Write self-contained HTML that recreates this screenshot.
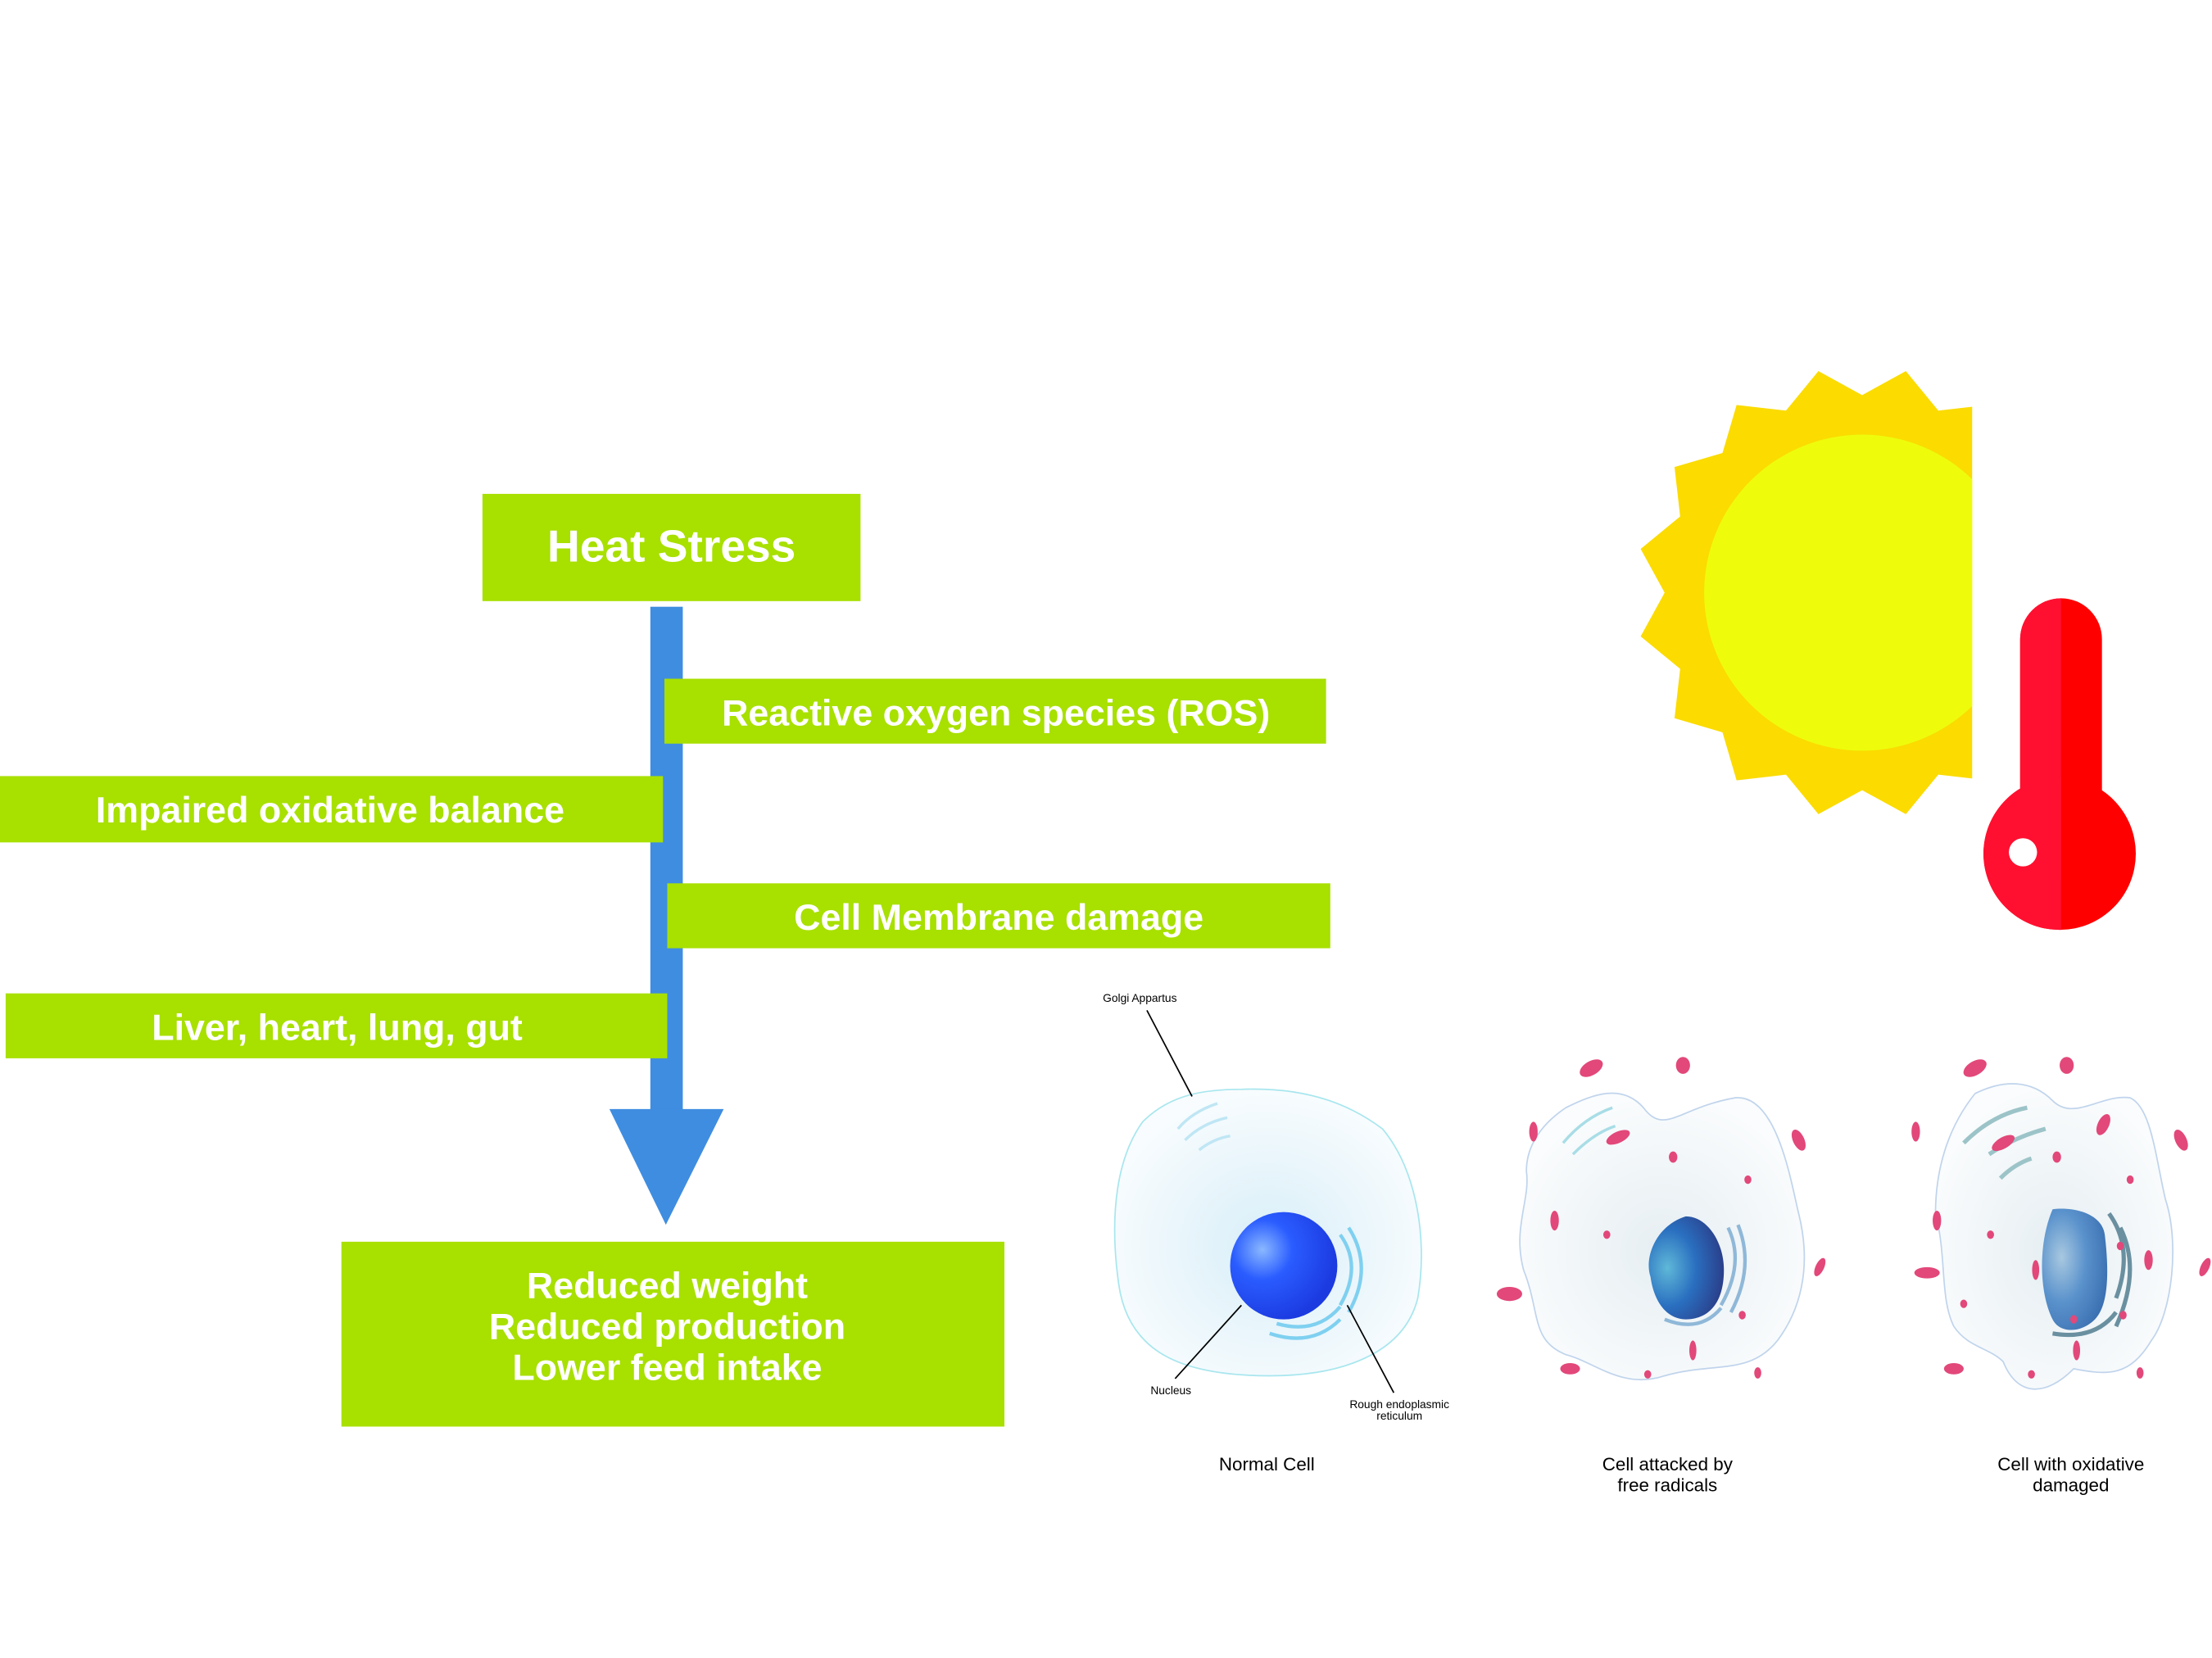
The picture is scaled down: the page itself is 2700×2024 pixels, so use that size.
<!DOCTYPE html>
<html><head><meta charset="utf-8"><style>html,body{margin:0;padding:0;background:#fff}svg{display:block}</style></head>
<body>
<svg width="2700" height="2024" viewBox="0 0 1568 1175" preserveAspectRatio="none" xmlns="http://www.w3.org/2000/svg" font-family="Liberation Sans, sans-serif">
<defs>
<clipPath id="sc"><rect x="0" y="0" width="1398" height="1175"/></clipPath>
<clipPath id="tl"><rect x="0" y="0" width="1461" height="1175"/></clipPath>
<radialGradient id="cg" cx="0.5" cy="0.55" r="0.55"><stop offset="0" stop-color="#d8eef8"/><stop offset="1" stop-color="#f8fcfe"/></radialGradient>
<radialGradient id="cg2" cx="0.5" cy="0.55" r="0.55"><stop offset="0" stop-color="#e6eef2"/><stop offset="1" stop-color="#fafcfd"/></radialGradient>
<radialGradient id="n1" cx="0.3" cy="0.35" r="0.7"><stop offset="0" stop-color="#8ab8ff"/><stop offset="0.4" stop-color="#2a5cff"/><stop offset="1" stop-color="#1b3ae0"/></radialGradient>
<radialGradient id="n2" cx="0.25" cy="0.5" r="0.75"><stop offset="0" stop-color="#5fb8d8"/><stop offset="0.5" stop-color="#2a6fc0"/><stop offset="1" stop-color="#2a3f8a"/></radialGradient>
<radialGradient id="n3" cx="0.3" cy="0.4" r="0.75"><stop offset="0" stop-color="#a8c8e0"/><stop offset="0.5" stop-color="#5a92cc"/><stop offset="1" stop-color="#3a6fb0"/></radialGradient>
</defs>

<!-- Sun -->
<g clip-path="url(#sc)">
<polygon fill="#fbdb00" points="1460,420 1477,451 1449,474 1453,509 1419,519 1409,553 1374,549 1351,577 1320,560 1289,577 1266,549 1231,553 1221,519 1187,509 1191,474 1163,451 1180,420 1163,389 1191,366 1187,331 1221,321 1231,287 1266,291 1289,263 1320,280 1351,263 1374,291 1409,287 1419,321 1453,331 1449,366 1477,389"/>
<circle cx="1320" cy="420" r="112" fill="#eefc0c"/>
</g>
<!-- Thermometer -->
<g fill="#ff0000">
<rect x="1432" y="424" width="58" height="200" rx="29"/>
<circle cx="1460" cy="605" r="54"/>
</g>
<g fill="#ff1030" clip-path="url(#tl)">
<rect x="1432" y="424" width="58" height="200" rx="29"/>
<circle cx="1460" cy="605" r="54"/>
</g>
<circle cx="1434" cy="604" r="10" fill="#fff"/>

<!-- Arrow -->
<rect x="461" y="430" width="23" height="360" fill="#3f8de0"/>
<polygon points="432,786 513,786 472,868" fill="#3f8de0"/>

<!-- Boxes -->
<g fill="#a8e000">
<rect x="342" y="350" width="268" height="76"/>
<rect x="471" y="481" width="469" height="46"/>
<rect x="0" y="550" width="470" height="47"/>
<rect x="473" y="626" width="470" height="46"/>
<rect x="4" y="704" width="469" height="46"/>
<rect x="242" y="880" width="470" height="131"/>
</g>
<g fill="#fff" font-weight="bold" text-anchor="middle">
<text x="476" y="398" font-size="32">Heat Stress</text>
<text x="706" y="514" font-size="26">Reactive oxygen species (ROS)</text>
<text x="234" y="583" font-size="26">Impaired oxidative balance</text>
<text x="708" y="659" font-size="26">Cell Membrane damage</text>
<text x="239" y="737" font-size="26">Liver, heart, lung, gut</text>
<text x="473" y="920" font-size="26">Reduced weight</text>
<text x="473" y="949" font-size="26">Reduced production</text>
<text x="473" y="978" font-size="26">Lower feed intake</text>
</g>

<!-- Normal cell -->
<path d="M880 772 C930 770 960 785 980 800 C1005 830 1012 880 1005 920 C995 960 950 975 900 975 C840 975 800 960 793 910 C786 860 792 820 810 795 C830 775 855 772 880 772Z" fill="url(#cg)" stroke="#a8e6ee" stroke-width="1"/>
<g fill="none" stroke="#bfe6f4" stroke-width="2"><path d="M835 800 q10 -12 28 -18"/><path d="M840 808 q12 -12 30 -16"/><path d="M850 815 q10 -8 22 -10"/></g>
<g fill="none" stroke="#7fd0f0" stroke-width="2.5"><path d="M950 875 q16 22 0 50"/><path d="M956 870 q18 28 0 60"/><path d="M900 945 q30 10 50 -10"/><path d="M905 938 q28 8 45 -12"/></g>
<ellipse cx="910" cy="897" rx="38" ry="38" fill="url(#n1)"/>
<g stroke="#000" stroke-width="1" fill="none"><path d="M813 716 L845 777"/><path d="M880 925 L833 977"/><path d="M955 925 L988 987"/></g>
<g font-size="8" fill="#000" text-anchor="middle">
<text x="808" y="710">Golgi Appartus</text>
<text x="830" y="988">Nucleus</text>
<text x="992" y="998">Rough endoplasmic</text>
<text x="992" y="1006">reticulum</text>
</g>

<!-- Cell 2 -->
<path d="M1110 785 C1130 775 1150 768 1165 785 C1180 805 1190 785 1230 778 C1260 775 1270 840 1275 860 C1285 900 1275 930 1260 950 C1240 975 1215 965 1180 975 C1150 985 1130 965 1110 960 C1085 950 1092 930 1080 900 C1072 870 1085 850 1082 830 C1082 810 1095 795 1110 785Z" fill="url(#cg2)" stroke="#c0d4ec" stroke-width="1"/>
<g fill="none" stroke="#a8dde6" stroke-width="2"><path d="M1108 810 q15 -18 35 -25"/><path d="M1115 818 q15 -15 30 -20"/></g>
<g fill="none" stroke="#8fb8d8" stroke-width="2.5"><path d="M1225 870 q12 25 -5 55"/><path d="M1232 868 q12 30 -5 62"/><path d="M1180 935 q25 10 40 -8"/></g>
<path d="M1195 862 C1210 862 1222 880 1222 900 C1222 925 1210 935 1195 935 C1180 935 1172 920 1170 905 C1165 890 1175 868 1195 862Z" fill="url(#n2)"/>
<g fill="#e2487a">
<ellipse cx="1128" cy="757" rx="9" ry="5" transform="rotate(-30 1128 757)"/><ellipse cx="1193" cy="755" rx="5" ry="6"/>
<ellipse cx="1087" cy="802" rx="3" ry="7"/><ellipse cx="1147" cy="806" rx="9" ry="4" transform="rotate(-25 1147 806)"/>
<ellipse cx="1275" cy="808" rx="4" ry="8" transform="rotate(-25 1275 808)"/><ellipse cx="1186" cy="820" rx="3" ry="4"/>
<ellipse cx="1239" cy="836" rx="2.5" ry="3"/><ellipse cx="1102" cy="865" rx="3" ry="7"/><ellipse cx="1139" cy="875" rx="2.5" ry="3"/>
<ellipse cx="1290" cy="898" rx="3" ry="7" transform="rotate(25 1290 898)"/><ellipse cx="1070" cy="917" rx="9" ry="5"/>
<ellipse cx="1235" cy="932" rx="2.5" ry="3"/><ellipse cx="1200" cy="957" rx="2.5" ry="7"/>
<ellipse cx="1113" cy="970" rx="7" ry="4"/><ellipse cx="1168" cy="974" rx="2.5" ry="3"/><ellipse cx="1246" cy="973" rx="2.5" ry="4"/>
</g>

<!-- Cell 3 -->
<path d="M1400 775 C1420 765 1440 765 1455 780 C1470 795 1490 775 1510 778 C1525 785 1528 820 1535 850 C1545 880 1540 930 1525 950 C1510 975 1495 975 1470 970 C1450 990 1430 990 1420 965 C1410 955 1395 955 1385 940 C1375 920 1380 890 1372 860 C1372 830 1380 800 1400 775Z" fill="url(#cg2)" stroke="#c0d4ec" stroke-width="1"/>
<g fill="none" stroke="#9cc4c8" stroke-width="3"><path d="M1392 810 q20 -20 45 -25"/><path d="M1410 818 q18 -12 40 -18"/><path d="M1418 835 q10 -10 22 -14"/></g>
<g fill="none" stroke="#6a90a0" stroke-width="3"><path d="M1495 860 q18 25 5 60"/><path d="M1503 870 q15 30 -3 70"/><path d="M1455 945 q30 5 45 -15"/></g>
<path d="M1455 857 C1470 855 1490 860 1492 875 C1495 900 1495 925 1485 935 C1475 945 1460 945 1455 935 C1445 915 1445 880 1455 857Z" fill="url(#n3)"/>
<g fill="#e2487a">
<ellipse cx="1400" cy="757" rx="9" ry="5" transform="rotate(-30 1400 757)"/><ellipse cx="1465" cy="755" rx="5" ry="6"/>
<ellipse cx="1358" cy="802" rx="3" ry="7"/><ellipse cx="1420" cy="810" rx="9" ry="4" transform="rotate(-30 1420 810)"/>
<ellipse cx="1491" cy="797" rx="4" ry="8" transform="rotate(25 1491 797)"/><ellipse cx="1546" cy="808" rx="4" ry="8" transform="rotate(-25 1546 808)"/>
<ellipse cx="1458" cy="820" rx="3" ry="4"/><ellipse cx="1510" cy="836" rx="2.5" ry="3"/><ellipse cx="1373" cy="865" rx="3" ry="7"/>
<ellipse cx="1411" cy="875" rx="2.5" ry="3"/><ellipse cx="1443" cy="900" rx="2.5" ry="7"/><ellipse cx="1523" cy="893" rx="3" ry="7"/>
<ellipse cx="1563" cy="898" rx="3" ry="7" transform="rotate(25 1563 898)"/><ellipse cx="1366" cy="902" rx="9" ry="4"/>
<ellipse cx="1503" cy="883" rx="2.5" ry="3"/><ellipse cx="1392" cy="924" rx="2.5" ry="3"/><ellipse cx="1470" cy="935" rx="2.5" ry="3"/>
<ellipse cx="1505" cy="932" rx="2.5" ry="3"/><ellipse cx="1472" cy="957" rx="2.5" ry="7"/>
<ellipse cx="1385" cy="970" rx="7" ry="4"/><ellipse cx="1440" cy="974" rx="2.5" ry="3"/><ellipse cx="1517" cy="973" rx="2.5" ry="4"/>
</g>

<g font-size="13" fill="#000" text-anchor="middle">
<text x="898" y="1042">Normal Cell</text>
<text x="1182" y="1042">Cell attacked by</text>
<text x="1182" y="1057">free radicals</text>
<text x="1468" y="1042">Cell with oxidative</text>
<text x="1468" y="1057">damaged</text>
</g>
</svg>
</body></html>
